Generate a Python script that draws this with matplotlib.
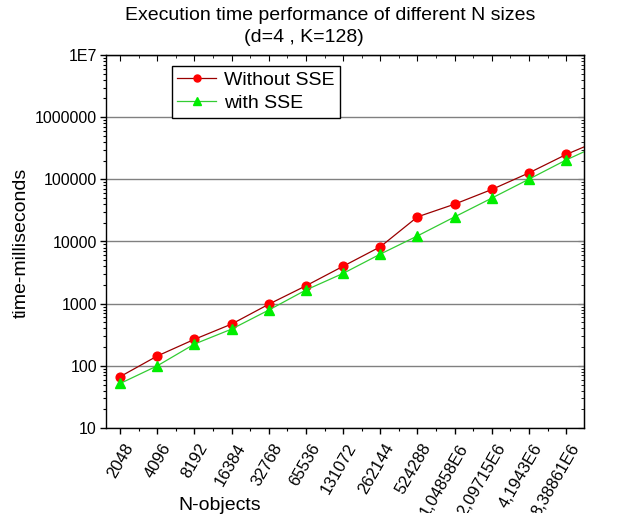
import matplotlib

matplotlib.use("Agg")
import matplotlib.pyplot as plt
import matplotlib.transforms as mtransforms
import numpy as np
from matplotlib.patches import Rectangle
from matplotlib.ticker import FixedLocator, LogLocator, NullFormatter

plt.rcParams["font.family"] = ["Liberation Sans", "DejaVu Sans"]

n_labels = ["2048", "4096", "8192", "16384", "32768", "65536", "131072",
            "262144", "524288", "1,04858E6", "2,09715E6", "4,1943E6",
            "8,38861E6", "1,67772E7"]
without_sse = [67, 144, 267, 470, 980, 1940, 4000, 8220, 24900, 39900,
               68700, 127000, 251000, 450000]
with_sse = [52, 100, 224, 390, 790, 1660, 3070, 6270, 12300, 24900,
            49900, 100700, 205000, 385000]
y_ticks = [10, 100, 1000, 10000, 100000, 1000000, 10000000]
y_tick_labels = ["10", "100", "1000", "10000", "100000", "1000000", "1E7"]

x = np.arange(len(n_labels))

fig = plt.figure(figsize=(6.26, 5.28), dpi=100)
ax = fig.add_axes([106 / 626, 1 - 428 / 528, 478 / 626, 373 / 528])

ax.plot(x, without_sse, "-", color="#990000", lw=0.9, marker="o", ms=6.3,
        mfc="#FF0000", mec="#FF0000", label="Without SSE")
ax.plot(x, with_sse, "-", color="#33CC33", lw=0.9, marker="^", ms=7,
        mfc="#00EE00", mec="#00EE00", label="with SSE")

ax.set_yscale("log")
ax.set_ylim(10, 1e7)
ax.set_xlim(-0.38, 12.48)

ax.yaxis.set_major_locator(FixedLocator(y_ticks))
ax.set_yticklabels(y_tick_labels)
ax.yaxis.set_minor_locator(LogLocator(base=10, subs=np.arange(2, 10)))
ax.yaxis.set_minor_formatter(NullFormatter())
ax.grid(axis="y", which="major", color="#808080", lw=1.0)

shown = x[:13]
ax.set_xticks(shown)
ax.set_xticklabels(n_labels[:13], rotation=60, ha="right", va="center",
                   rotation_mode="anchor")
ax.set_xticks(shown[:-1] + 0.5, minor=True)

ax.tick_params(axis="both", which="major", direction="out", length=4.5,
               width=1, labelsize=11.5, pad=2)
ax.tick_params(axis="both", which="minor", direction="out", length=2.5, width=0.8)
ax.tick_params(axis="x", which="major", labelsize=12, pad=7.5)

# shift rotated labels a bit to the right, like the original
shift = mtransforms.ScaledTranslation(10 / 100, 0, fig.dpi_scale_trans)
for lbl in ax.get_xticklabels():
    lbl.set_transform(lbl.get_transform() + shift)

# mirrored ticks on top/right point inward
ax_top = ax.secondary_xaxis("top")
ax_top.set_xticks(shown)
ax_top.set_xticks(shown[:-1] + 0.5, minor=True)
ax_top.tick_params(which="major", direction="in", length=4.5, labeltop=False)
ax_top.tick_params(which="minor", direction="in", length=2.5)
ax_top.set_xticklabels([])
ax_right = ax.secondary_yaxis("right")
ax_right.set_yticks(y_ticks)
ax_right.yaxis.set_minor_locator(LogLocator(base=10, subs=np.arange(2, 10)))
ax_right.yaxis.set_minor_formatter(NullFormatter())
ax_right.tick_params(which="major", direction="in", length=4.5, labelright=False)
ax_right.tick_params(which="minor", direction="in", length=2.5)
ax_right.set_yticklabels([])

for sp in ax.spines.values():
    sp.set_linewidth(1.0)
    sp.set_color("black")

ax.legend(loc="upper left", bbox_to_anchor=(66 / 478, (428 - 66) / 373),
          fontsize=14, frameon=True, fancybox=False, edgecolor="black",
          framealpha=1, handlelength=2.0, handletextpad=0.4, borderpad=0.28,
          labelspacing=0.28, borderaxespad=0, markerscale=0.8)

fig.text(330 / 626, 1 - 15 / 528, "Execution time performance of different N sizes",
         ha="center", va="center", fontsize=14)
fig.text(304 / 626, 1 - 38 / 528, "(d=4 , K=128)", ha="center", va="center",
         fontsize=14)
fig.text(21 / 626, 1 - 243 / 528, "time-milliseconds", rotation=90,
         ha="center", va="center", fontsize=14)

# the original image is blank below the x label line
fig.add_artist(Rectangle((0, 0), 1, 15 / 528, transform=fig.transFigure,
                         facecolor="white", edgecolor="none", zorder=5))
fig.text(220 / 626, 1 - 510 / 528, "N-objects", ha="center", va="baseline",
         fontsize=14, zorder=6)

fig.savefig("out.png", dpi=100)
